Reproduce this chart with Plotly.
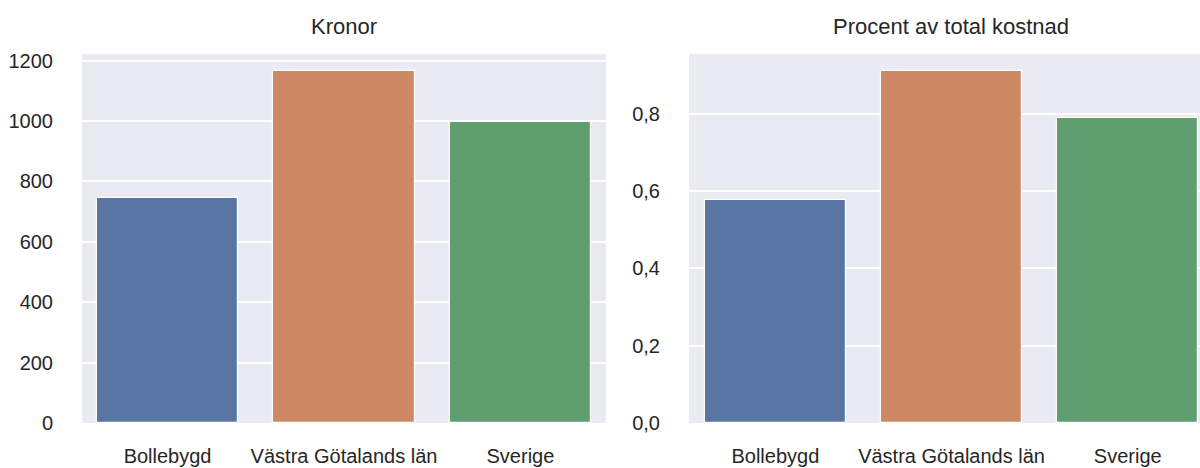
import plotly.graph_objects as go

categories = ["Bollebygd", "Västra Götalands län", "Sverige"]
kronor = [745, 1167, 998]
procent = [0.576, 0.912, 0.789]
colors = ["#5975a4", "#cc8963", "#5f9e6e"]
kronor_ticks = [0, 200, 400, 600, 800, 1000, 1200]
procent_ticks = [0.0, 0.2, 0.4, 0.6, 0.8]
titles = ["Kronor", "Procent av total kostnad"]

W, H = 1200, 468
mt, mb = 54, 45
ph = H - mt - mb

fig = go.Figure()
fig.add_trace(go.Bar(x=[0, 1, 2], y=kronor, marker=dict(color=colors, line=dict(color="white", width=1.2)),
                     width=0.8, xaxis="x", yaxis="y", showlegend=False))
fig.add_trace(go.Bar(x=[0, 1, 2], y=procent, marker=dict(color=colors, line=dict(color="white", width=1.2)),
                     width=0.8, xaxis="x2", yaxis="y2", showlegend=False))

font = "Liberation Sans, Arial, sans-serif"
tickfont = dict(family=font, size=20, color="#262626")
axis_common = dict(showline=False, zeroline=False, gridcolor="white", gridwidth=1.6, tickfont=tickfont,
                   automargin=False)

fig.update_layout(
    width=W, height=H,
    margin=dict(l=0, r=0, t=mt, b=mb),
    paper_bgcolor="white", plot_bgcolor="#EAEAF2",
    separators=", ",
    bargap=0,
    xaxis=dict(domain=[82 / W, 606 / W], range=[-0.485, 2.485], tickvals=[0, 1, 2], ticktext=categories,
               showgrid=False, ticklabelstandoff=19, anchor="y", **axis_common),
    yaxis=dict(domain=[0, 1], range=[0, 1222], tickvals=kronor_ticks, tickformat="d",
               ticklabelstandoff=28, anchor="x", **axis_common),
    xaxis2=dict(domain=[689 / W, 1.0], range=[-0.49, 2.41], tickvals=[0, 1, 2], ticktext=categories,
                showgrid=False, ticklabelstandoff=19, anchor="y2", **axis_common),
    yaxis2=dict(domain=[0, 1], range=[0, 0.955], tickvals=procent_ticks, tickformat=".1f",
                ticklabelstandoff=28, anchor="x2", **axis_common),
    annotations=[
        dict(text=titles[0], x=344 / W, y=1 + 13 / ph, xref="paper", yref="paper", xanchor="center",
             yanchor="bottom", showarrow=False, font=dict(family=font, size=22, color="#262626")),
        dict(text=titles[1], x=951 / W, y=1 + 13 / ph, xref="paper", yref="paper", xanchor="center",
             yanchor="bottom", showarrow=False, font=dict(family=font, size=22, color="#262626")),
    ],
)

fig.write_html("out.html", config={"displayModeBar": False},
               post_script="document.body.style.margin='0';document.body.style.overflow='hidden';")
